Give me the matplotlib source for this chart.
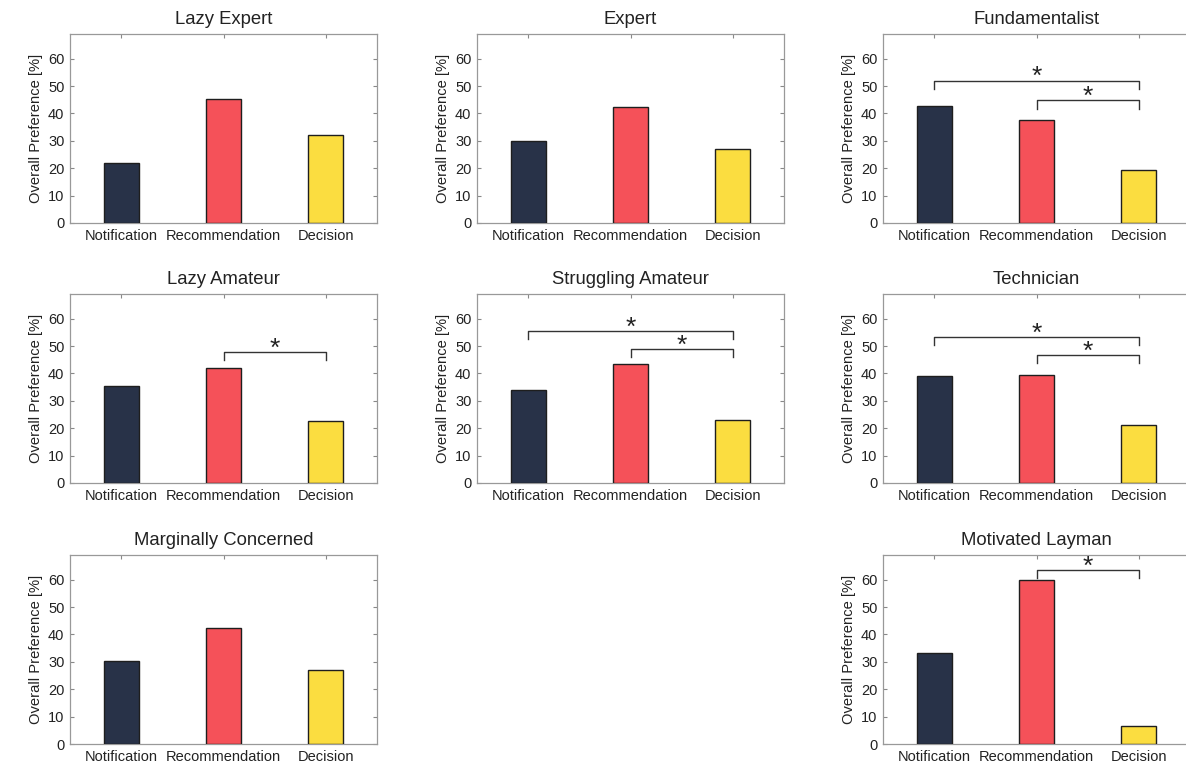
import matplotlib.pyplot as plt

plt.rcParams['font.family'] = ['Liberation Sans', 'DejaVu Sans']

categories = ['Notification', 'Recommendation', 'Decision']
bar_colors = ['#283248', '#f55159', '#fbdd40']

# per-panel data
lazy_expert = [22.0, 45.3, 32.2]
expert = [30.0, 42.3, 27.0]
fundamentalist = [42.7, 37.7, 19.2]
lazy_amateur = [35.3, 41.9, 22.8]
struggling_amateur = [33.8, 43.5, 22.9]
technician = [39.0, 39.5, 21.3]
marginally_concerned = [30.3, 42.5, 27.1]
motivated_layman = [33.4, 59.9, 6.5]

# significance brackets: (from index, to index, height)
sig_fundamentalist = [(0, 2, 52.0), (1, 2, 44.8)]
sig_lazy_amateur = [(1, 2, 47.9)]
sig_struggling = [(0, 2, 55.5), (1, 2, 48.9)]
sig_technician = [(0, 2, 53.4), (1, 2, 46.7)]
sig_layman = [(1, 2, 63.6)]

# (title, values, brackets, left px, top px)
panels = [
    ('Lazy Expert', lazy_expert, [], 70, 34),
    ('Expert', expert, [], 477, 34),
    ('Fundamentalist', fundamentalist, sig_fundamentalist, 883, 34),
    ('Lazy Amateur', lazy_amateur, sig_lazy_amateur, 70, 294),
    ('Struggling Amateur', struggling_amateur, sig_struggling, 477, 294),
    ('Technician', technician, sig_technician, 883, 294),
    ('Marginally Concerned', marginally_concerned, [], 70, 555),
    ('Motivated Layman', motivated_layman, sig_layman, 883, 555),
]

W, H = 1186, 766
AX_W, AX_H = 307, 189
EXTRA = 40  # third column runs off the right edge of the picture
fig = plt.figure(figsize=(W / 100, H / 100), dpi=100)

for title, vals, brackets, left, top in panels:
    extra = EXTRA if left > 800 else 0
    ax = fig.add_axes([left / W, 1 - (top + AX_H) / H, (AX_W + extra) / W, AX_H / H])
    x = [1, 2, 3]
    ax.bar(x, vals, width=0.34, color=bar_colors, edgecolor='#1e1e1e', linewidth=1.0, zorder=3)
    ax.set_xlim(0.5, 3.5 + extra * 3 / AX_W)
    ax.set_ylim(0, 69)
    ax.set_xticks(x)
    ax.set_xticklabels(categories)
    ax.set_yticks(range(0, 61, 10))
    ax.tick_params(direction='in', length=3, width=0.8, color='#888888',
                   top=True, right=True, labelsize=10.5, labelcolor='#222222', pad=4)
    for sp in ax.spines.values():
        sp.set_color('#999999')
        sp.set_linewidth(0.9)
    ax.set_ylabel('Overall Preference [%]', fontsize=10.6, color='#222222')
    ax.set_title(title, fontsize=13.3, color='#222222', pad=7,
                 x=(AX_W / 2) / (AX_W + extra))
    for i, j, h in brackets:
        ax.plot([x[i], x[i], x[j], x[j]], [h - 3, h, h, h - 3],
                color='#333333', linewidth=1.0, zorder=4)
        ax.text((x[i] + x[j]) / 2, h + 1.2, '*', ha='center', va='center',
                fontsize=19, color='#222222')

fig.savefig('out.png', dpi=100)
